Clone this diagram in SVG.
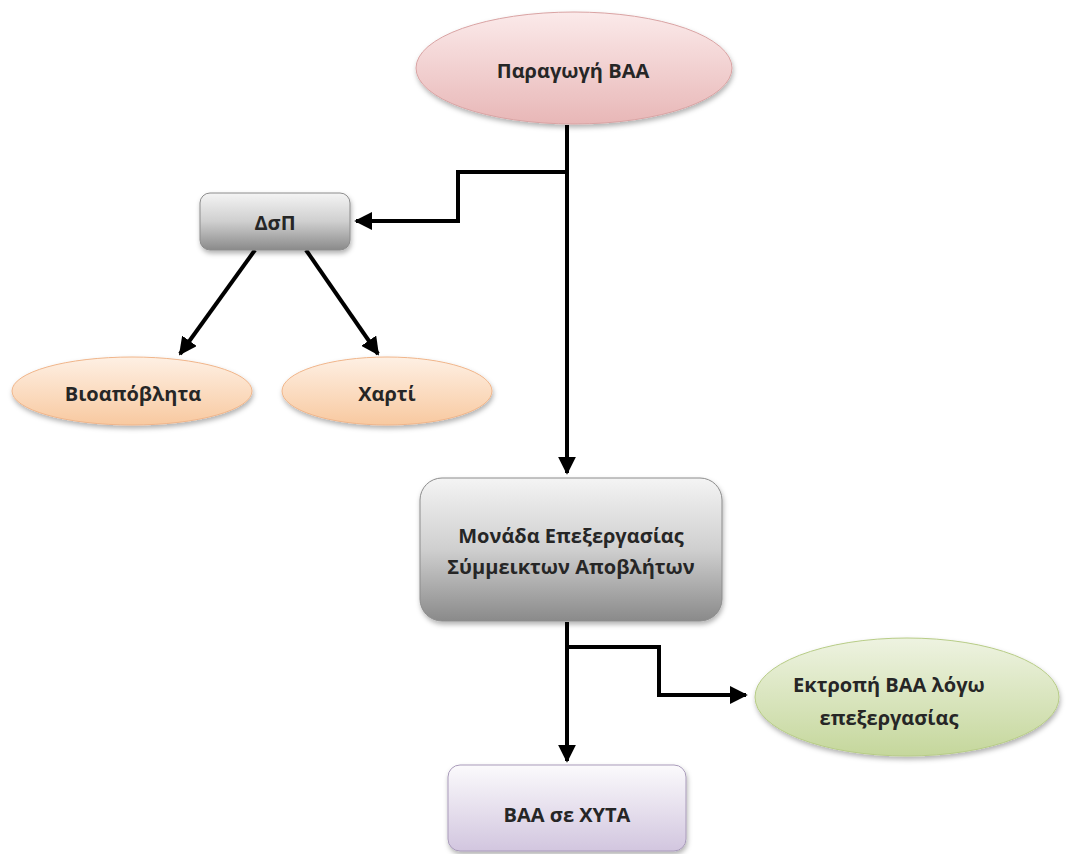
<svg xmlns="http://www.w3.org/2000/svg" width="1087" height="854" viewBox="0 0 1087 854">
<defs>
<linearGradient id="gPink" x1="0" y1="0" x2="0" y2="1"><stop offset="0" stop-color="#fbeaea"/><stop offset="1" stop-color="#e8b7b7"/></linearGradient>
<linearGradient id="gOrange" x1="0" y1="0" x2="0" y2="1"><stop offset="0" stop-color="#fef0e4"/><stop offset="1" stop-color="#f8c9a0"/></linearGradient>
<linearGradient id="gGray" x1="0" y1="0" x2="0" y2="1"><stop offset="0" stop-color="#f4f4f4"/><stop offset="0.5" stop-color="#cfcfcf"/><stop offset="1" stop-color="#8a8a8a"/></linearGradient>
<linearGradient id="gGreen" x1="0" y1="0" x2="0" y2="1"><stop offset="0" stop-color="#eef3e1"/><stop offset="1" stop-color="#c5d79c"/></linearGradient>
<linearGradient id="gLav" x1="0" y1="0" x2="0" y2="1"><stop offset="0" stop-color="#fbfafc"/><stop offset="1" stop-color="#d2c6df"/></linearGradient>
<filter id="sh" x="-10%" y="-10%" width="120%" height="130%"><feDropShadow dx="1" dy="3" stdDeviation="2.5" flood-color="#000" flood-opacity="0.3"/></filter>
<marker id="ah" viewBox="0 0 10 10" refX="9" refY="5" markerWidth="4.5" markerHeight="4.5" orient="auto" markerUnits="strokeWidth"><path d="M0,0 L10,5 L0,10 Z" fill="#000"/></marker>
<style>
.t{font-family:"Open Sans","Liberation Sans",sans-serif;font-weight:700;font-size:20px;fill:#262626;text-anchor:middle;dominant-baseline:central}
.c{fill:none;stroke:#000;stroke-width:4;stroke-linejoin:miter}
</style>
</defs>
<g id="connectors">
<path class="c" d="M567,125 V473" marker-end="url(#ah)"/>
<path class="c" d="M567,172 H458 V221 H356" marker-end="url(#ah)"/>
<path class="c" d="M255,250 L180,354" marker-end="url(#ah)"/>
<path class="c" d="M306,250 L378,354" marker-end="url(#ah)"/>
<path class="c" d="M567,622 V761" marker-end="url(#ah)"/>
<path class="c" d="M567,647 H659 V695 H746" marker-end="url(#ah)"/>
</g>
<g id="n-paragogi">
<ellipse cx="574" cy="68" rx="158" ry="56" fill="url(#gPink)" stroke="#d9a3a3" stroke-width="1" filter="url(#sh)"/>
<text class="t" x="573" y="70">Παραγωγή ΒΑΑ</text>
</g>
<g id="n-dsp">
<rect x="200" y="193" width="150" height="57" rx="10" fill="url(#gGray)" stroke="#8c8c8c" stroke-width="1" filter="url(#sh)"/>
<text class="t" x="275" y="222">ΔσΠ</text>
</g>
<g id="n-bio">
<ellipse cx="132" cy="391" rx="120" ry="34" fill="url(#gOrange)" stroke="#f0b58a" stroke-width="1" filter="url(#sh)"/>
<text class="t" x="133" y="393">Βιοαπόβλητα</text>
</g>
<g id="n-xarti">
<ellipse cx="387" cy="391" rx="105" ry="34" fill="url(#gOrange)" stroke="#f0b58a" stroke-width="1" filter="url(#sh)"/>
<text class="t" x="387" y="393">Χαρτί</text>
</g>
<g id="n-monada">
<rect x="420" y="478" width="302" height="143" rx="22" fill="url(#gGray)" stroke="#8c8c8c" stroke-width="1" filter="url(#sh)"/>
<text class="t" x="571" y="535">Μονάδα Επεξεργασίας</text>
<text class="t" x="571" y="566">Σύμμεικτων Αποβλήτων</text>
</g>
<g id="n-ektropi">
<ellipse cx="907" cy="697" rx="152" ry="59" fill="url(#gGreen)" stroke="#b7cc86" stroke-width="1" filter="url(#sh)"/>
<text class="t" x="889" y="684">Εκτροπή ΒΑΑ λόγω</text>
<text class="t" x="889" y="717">επεξεργασίας</text>
</g>
<g id="n-xyta">
<rect x="448" y="765" width="238" height="86" rx="12" fill="url(#gLav)" stroke="#a99bba" stroke-width="1" filter="url(#sh)"/>
<text class="t" x="567" y="814">ΒΑΑ σε ΧΥΤΑ</text>
</g>
</svg>
